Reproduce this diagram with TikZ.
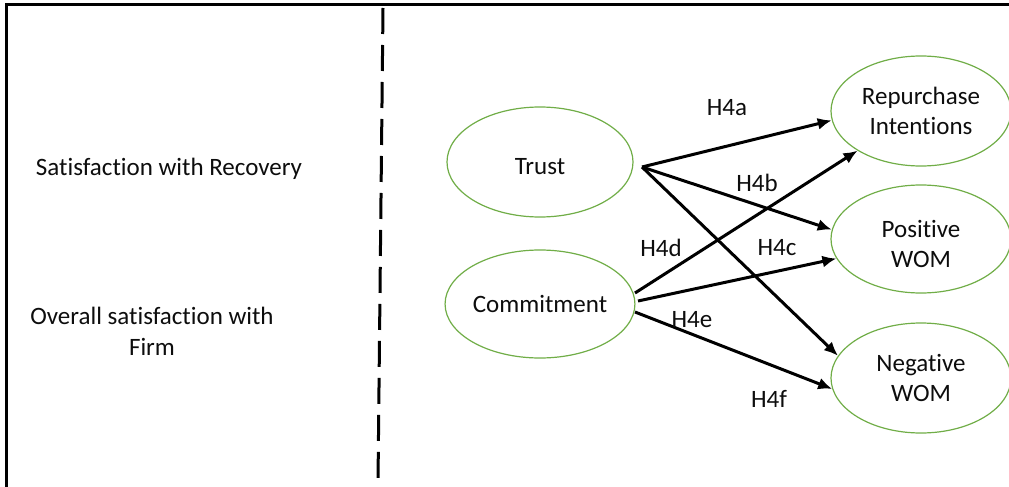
\documentclass[tikz,border=0pt]{standalone}
\usepackage{fontspec}
\setmainfont{Carlito}[Ligatures=NoCommon]
\usetikzlibrary{shapes.geometric,arrows.meta}
\definecolor{ovalgreen}{HTML}{70AD47}
\definecolor{inkblack}{HTML}{0D0D0D}
\begin{document}
\begin{tikzpicture}[x=1pt,y=-1pt,
  every node/.style={font=\fontsize{25}{30}\selectfont, text=inkblack},
  every label/.style={font=\fontsize{25}{30}\selectfont, text=inkblack, align=center, inner sep=0pt},
  construct/.style={ellipse, draw=ovalgreen, line width=1.2pt, inner sep=0pt,
    align=center},
  path/.style={line width=3pt, -{Latex[length=14pt,width=12pt]}},
  hyp/.style={inner sep=0pt}]
\useasboundingbox (0,0) rectangle (1009,487);
\clip (0,0) rectangle (1009,487);

% outer frame
\draw[line width=3pt] (6,5) rectangle (1040,520);

% divider between the two stages
\draw[line width=3pt, dash pattern=on 26pt off 11pt] (383,8) -- (378,482);

% left-hand stage
\node (rec) at (169,169) {Satisfaction with Recovery};
\node[align=center, font=\fontsize{25}{31}\selectfont] (overall) at (152,331)
  {Overall satisfaction with\\Firm};

% relational constructs (Trust text sits a little below the centre)
\node[construct, minimum width=186pt, minimum height=110pt,
  label={[yshift=-5pt]center:Trust}] (trust) at (540,162) {};
\node[construct, minimum width=186pt, minimum height=108pt] (commit) at (540,304) {Commitment};

% outcome constructs
\node[construct, minimum width=180pt, minimum height=110pt] (rep) at (921,111) {Repurchase\\Intentions};
\node[construct, minimum width=180pt, minimum height=108pt,
  label={[yshift=-5pt]center:Positive\\WOM}] (pos) at (921,239) {};
\node[construct, minimum width=180pt, minimum height=110pt] (neg) at (921,378) {Negative\\WOM};

% arrow origins
\coordinate (tout) at (642,167);
\coordinate (cup) at (635,293);
\coordinate (cmid) at (638,301);
\coordinate (clow) at (635,312);

% hypothesised paths
\draw[path] (tout) -- (rep.186);
\draw[path] (tout) -- (pos.174);
\draw[path] (tout) -- (neg.165);
\draw[path] (cup) -- (rep.212);
\draw[path] (cmid) -- (pos.193);
\draw[path] (clow) -- (neg.187);

% path labels
\node[hyp] (h4a) at (727,108) {H4a};
\node[hyp] (h4b) at (757,183) {H4b};
\node[hyp] (h4c) at (777,248) {H4c};
\node[hyp] (h4d) at (661,248) {H4d};
\node[hyp] (h4e) at (692,320) {H4e};
\node[hyp] (h4f) at (769,399) {H4f};
\end{tikzpicture}
\end{document}
